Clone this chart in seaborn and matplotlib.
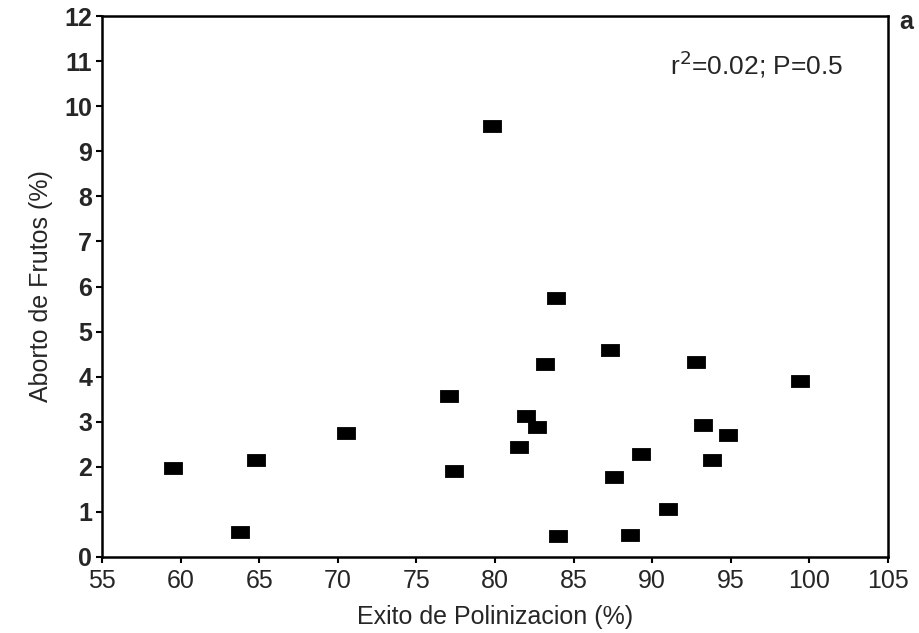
import matplotlib
matplotlib.use("Agg")
import matplotlib.pyplot as plt
import seaborn as sns
import pandas as pd

exito = [59.5, 63.8, 64.8, 70.5, 77.1, 77.4, 79.8, 81.5, 82.0, 82.7, 83.2, 83.9,
         84.0, 87.3, 87.6, 88.6, 89.3, 91.0, 92.8, 93.2, 93.8, 94.8, 99.4]
aborto = [1.97, 0.56, 2.16, 2.75, 3.58, 1.90, 9.55, 2.44, 3.13, 2.89, 4.27, 5.75,
          0.46, 4.60, 1.78, 0.48, 2.29, 1.06, 4.32, 2.93, 2.16, 2.70, 3.91]
xticks = [55, 60, 65, 70, 75, 80, 85, 90, 95, 100, 105]
yticks = list(range(0, 13))

df = pd.DataFrame({"Exito de Polinizacion (%)": exito, "Aborto de Frutos (%)": aborto})

sns.set_theme(style="white")
plt.rcParams['font.family'] = ['Liberation Sans', 'DejaVu Sans']

fig = plt.figure(figsize=(9.2, 6.33), dpi=100)
ax = fig.add_axes([102/920, 1 - 557/633, (888-102)/920, (557-16)/633])

rect = [(-1, -0.62), (1, -0.62), (1, 0.62), (-1, 0.62), (-1, -0.62)]
sns.scatterplot(data=df, x="Exito de Polinizacion (%)", y="Aborto de Frutos (%)",
                marker=rect, s=175, color="black", edgecolor="black", linewidth=0.6,
                ax=ax, zorder=3)

ax.set_xlim(55, 105)
ax.set_ylim(0, 12)
ax.set_xticks(xticks)
ax.set_yticks(yticks)
ax.set_xticklabels([str(v) for v in xticks], fontsize=18)
ax.set_yticklabels([str(v) for v in yticks], fontsize=18, fontweight="bold")
ax.tick_params(axis="both", direction="out", length=4, width=1.5, color="black",
               bottom=True, left=True, top=False, right=False)
ax.tick_params(axis="x", pad=5)
ax.tick_params(axis="y", pad=3)
for sp in ax.spines.values():
    sp.set_color("black")
    sp.set_linewidth(1.8)
ax.set_xlabel("Exito de Polinizacion (%)", fontsize=18, labelpad=8)
ax.set_ylabel("Aborto de Frutos (%)", fontsize=18, labelpad=8)

ax.text(0.943, 0.91, r"r$^2$=0.02; P=0.5", transform=ax.transAxes, fontsize=19,
        ha="right", va="center")
fig.text(906/920, 1 - 22/633, "a", fontsize=18, fontweight="bold", ha="center", va="center")

fig.savefig("out.png", dpi=100)
